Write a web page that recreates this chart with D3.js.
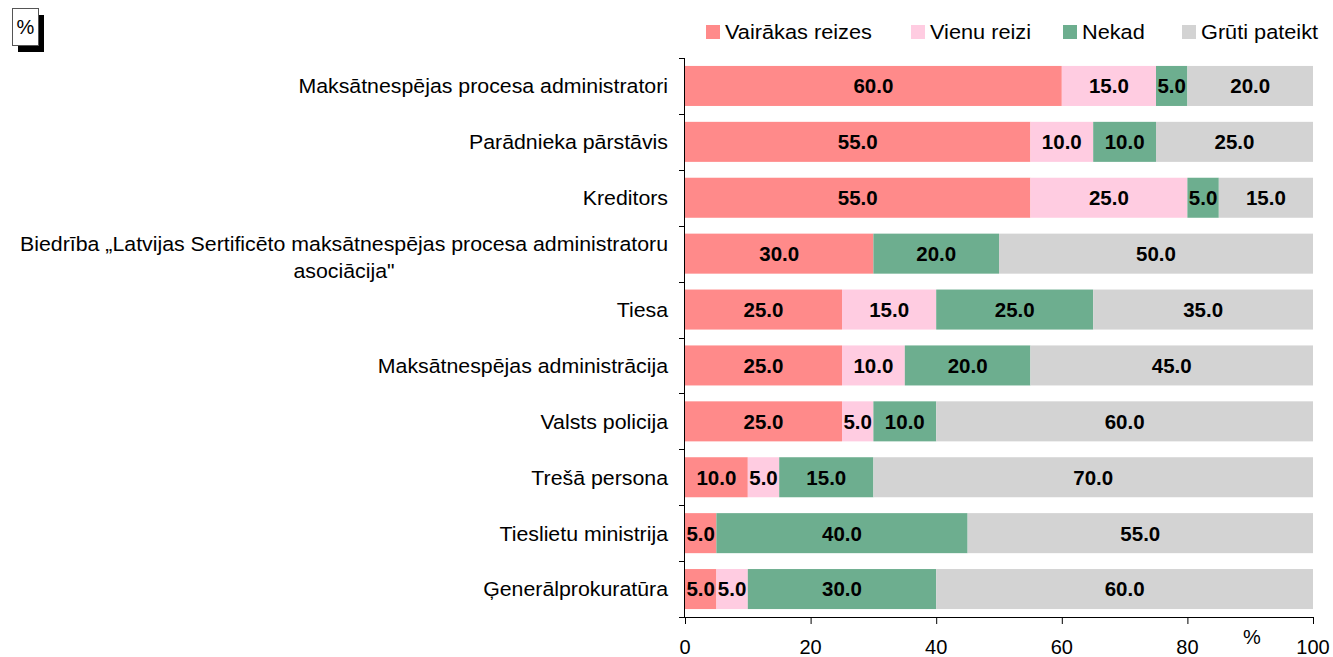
<!DOCTYPE html>
<html>
<head>
<meta charset="utf-8">
<script src="https://cdn.jsdelivr.net/npm/d3@7"></script>
<style>
  body { margin: 0; background: #fff; }
  text { font-family: "Liberation Sans", Arial, sans-serif; }
</style>
</head>
<body>
<svg id="chart" width="1333" height="657"></svg>
<script>
// data
const categories = [
    'Maksātnespējas procesa administratori',
    'Parādnieka pārstāvis',
    'Kreditors',
    'Biedrība „Latvijas Sertificēto maksātnespējas procesa administratoru|asociācija"',
    'Tiesa',
    'Maksātnespējas administrācija',
    'Valsts policija',
    'Trešā persona',
    'Tieslietu ministrija',
    'Ģenerālprokuratūra'
];
const seriesNames = ['Vairākas reizes', 'Vienu reizi', 'Nekad', 'Grūti pateikt'];
const vairakas = [60, 55, 55, 30, 25, 25, 25, 10, 5, 5];
const vienu = [15, 10, 25, 0, 15, 10, 5, 5, 0, 5];
const nekad = [5, 10, 5, 20, 25, 20, 10, 15, 40, 30];
const gruti = [20, 25, 15, 50, 35, 45, 60, 70, 55, 60];
const xTicks = [0, 20, 40, 60, 80, 100];

const colors = ['#FF8A8A', '#FFCCE1', '#6DAE8F', '#D3D3D3'];

const margin = { top: 58, left: 685 };
const plotW = 1313 - margin.left;
const plotH = 617 - margin.top;

const svg = d3.select('#chart');

// text placed at (px, py), optionally stretched horizontally
function addText(parent, px, py, str, opts) {
    const o = Object.assign({ anchor: 'start', size: 20, bold: false, sx: 1 }, opts);
    return parent.append('text')
        .attr('transform', `translate(${px},${py}) scale(${o.sx},1)`)
        .attr('dy', '0.36em')
        .attr('text-anchor', o.anchor)
        .attr('font-size', o.size)
        .attr('font-weight', o.bold ? 'bold' : 'normal')
        .attr('fill', '#000')
        .text(str);
}

const rows = categories.map((c, i) => ({
    cat: c,
    vals: [vairakas[i], vienu[i], nekad[i], gruti[i]]
}));

const x = d3.scaleLinear().domain([0, 100]).range([0, plotW]);
const y = d3.scaleBand().domain(categories).range([0, plotH]).paddingInner(0.284).paddingOuter(0.142);

const g = svg.append('g').attr('transform', `translate(${margin.left},${margin.top})`);

// bars
rows.forEach(r => {
    let acc = 0;
    r.vals.forEach((v, k) => {
        const x0 = acc;
        acc += v;
        if (v <= 0) return;
        g.append('rect')
            .attr('x', x(x0))
            .attr('y', y(r.cat))
            .attr('width', x(x0 + v) - x(x0))
            .attr('height', y.bandwidth())
            .attr('fill', colors[k]);
        addText(g, x(x0 + v / 2), y(r.cat) + y.bandwidth() / 2, v.toFixed(1),
            { anchor: 'middle', size: 20.5, bold: true });
    });
});

// y axis
g.append('line').attr('x1', -0.5).attr('x2', -0.5).attr('y1', 0).attr('y2', plotH)
    .attr('stroke', '#000');
for (let i = 0; i <= categories.length; i++) {
    const yy = Math.round(i * plotH / categories.length) + 0.5;
    g.append('line').attr('x1', -6).attr('x2', 0).attr('y1', yy).attr('y2', yy)
        .attr('stroke', '#000');
}

// category labels
const labOpts = { anchor: 'end', size: 20.5, sx: 1.04 };
rows.forEach(r => {
    const lines = r.cat.split('|');
    const cy = y(r.cat) + y.bandwidth() / 2;
    if (lines.length === 1) {
        addText(g, -17, cy, lines[0], labOpts);
    } else {
        const t1 = addText(g, -17, cy - 10, lines[0], labOpts);
        const w = t1.node().getComputedTextLength() * labOpts.sx;
        addText(g, -17 - w / 2, cy + 17, lines[1], Object.assign({}, labOpts, { anchor: 'middle' }));
    }
});

// x axis
const xAxis = d3.axisBottom(x).tickValues(xTicks).tickSize(7).tickSizeOuter(0).tickFormat('');
const gx = g.append('g').attr('transform', `translate(0,${plotH})`).call(xAxis);
gx.select('.domain').attr('stroke', '#000');
gx.selectAll('.tick line').attr('stroke', '#000');
xTicks.forEach(t => addText(gx, x(t), 30, d3.format('d')(t), { anchor: 'middle', size: 20 }));
addText(svg, 1252, 637, '%', { anchor: 'middle', size: 20 });

// legend
const legendX = [706, 911, 1063, 1182];
seriesNames.forEach((s, k) => {
    svg.append('rect')
        .attr('x', legendX[k]).attr('y', 25)
        .attr('width', 14).attr('height', 14)
        .attr('fill', colors[k]);
    addText(svg, legendX[k] + 19, 32, s, { size: 20.5, sx: 1.06 });
});

// unit box
svg.append('rect').attr('x', 18).attr('y', 15).attr('width', 26).attr('height', 37).attr('fill', '#000');
svg.append('rect').attr('x', 12.5).attr('y', 8.5).attr('width', 26).attr('height', 37)
    .attr('fill', '#fff').attr('stroke', '#555').attr('stroke-width', 1);
addText(svg, 25.5, 27, '%', { anchor: 'middle', size: 20 });
</script>
</body>
</html>
